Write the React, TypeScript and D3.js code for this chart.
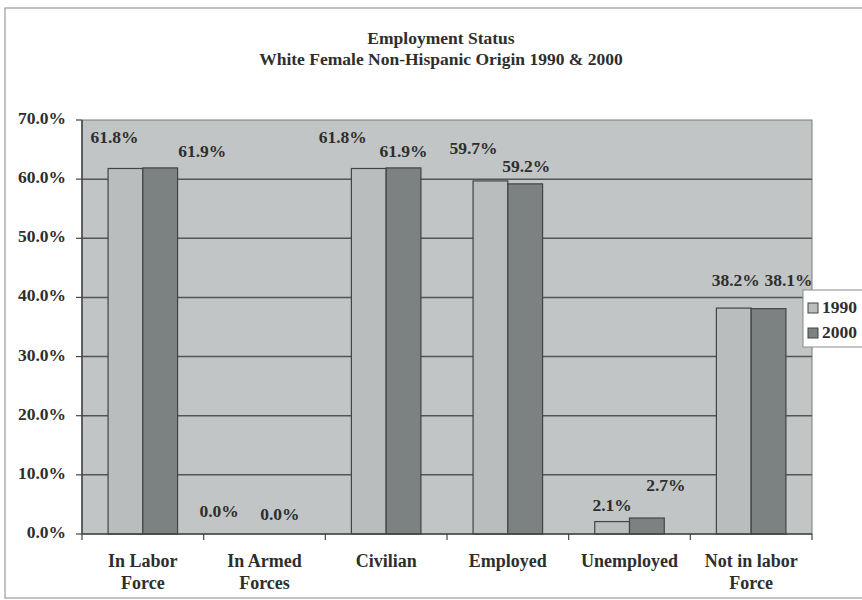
import React from "react";
import * as d3 from "d3";

const categories = [
  ["In Labor", "Force"],
  ["In Armed", "Forces"],
  ["Civilian"],
  ["Employed"],
  ["Unemployed"],
  ["Not in labor", "Force"],
];
const series = ["1990", "2000"];
const values1990 = [61.8, 0.0, 61.8, 59.7, 2.1, 38.2];
const values2000 = [61.9, 0.0, 61.9, 59.2, 2.7, 38.1];
const yTicks = [0, 10, 20, 30, 40, 50, 60, 70];
const titleLines = ["Employment Status", "White Female Non-Hispanic Origin 1990 & 2000"];

export default function App() {
  const W = 862, H = 600;
  const m = { left: 82, right: 812, top: 120, bottom: 534 };
  const font = "'Liberation Serif', 'Times New Roman', serif";
  const textColor = "#2e2e2e";
  const bg = "#c1c5c5";
  const colors = ["#b9bdbd", "#7c8282"];
  const fs = 17.5;

  const x0 = d3.scaleBand<number>().domain(d3.range(categories.length)).range([m.left, m.right]).paddingInner(0).paddingOuter(0);
  const barW = x0.bandwidth() / 3.5;
  const x1 = d3.scaleBand<number>().domain([0, 1]).range([-barW, barW]).padding(0);
  const y = d3.scaleLinear().domain([0, 70]).range([m.bottom, m.top]);

  const data = [values1990, values2000];
  // label nudges relative to bar top-center (layout only)
  const labelNudge = [
    [[-11, -30], [42, -15]],
    [[-28, -21], [-2, -18]],
    [[-26, -30], [0, -15]],
    [[-17, -31], [1, -16]],
    [[0, -15], [19, -31]],
    [[2, -26], [20, -27]],
  ];

  return (
    <svg width={W} height={H} style={{ position: "absolute", left: 0, top: 0 }} fontFamily={font}>
      <rect x={0} y={0} width={W} height={H} fill="#fff" />
      <rect x={5} y={8} width={W + 10} height={590} fill="#fff" stroke="#9a9a9a" strokeWidth={1.2} />
      {titleLines.map((t, i) => (
        <text key={i} x={441} y={40 + i * 21} textAnchor="middle" dominantBaseline="middle" fontSize={17.5} fontWeight="bold" fill={textColor}>
          {t}
        </text>
      ))}
      <rect x={m.left} y={m.top} width={m.right - m.left} height={m.bottom - m.top} fill={bg} stroke="#7a7a7a" strokeWidth={1} />
      {yTicks.filter((t) => t > 0 && t < 70).map((t) => (
        <line key={t} x1={m.left} x2={m.right} y1={y(t)} y2={y(t)} stroke="#555" strokeWidth={1.5} />
      ))}
      {data.map((vals, s) =>
        vals.map((v, i) => (
          <rect
            key={`${s}-${i}`}
            x={x0(i)! + x0.bandwidth() / 2 + x1(s)!}
            y={y(v)}
            width={x1.bandwidth()}
            height={y(0) - y(v)}
            fill={colors[s]}
            stroke="#444"
            strokeWidth={1.2}
          />
        ))
      )}
      {data.map((vals, s) =>
        vals.map((v, i) => (
          <text
            key={`l${s}-${i}`}
            x={x0(i)! + x0.bandwidth() / 2 + x1(s)! + x1.bandwidth() / 2 + labelNudge[i][s][0]}
            y={y(v) + labelNudge[i][s][1]}
            textAnchor="middle"
            dominantBaseline="middle"
            fontSize={fs}
            fontWeight="bold"
            fill={textColor}
          >
            {v.toFixed(1)}%
          </text>
        ))
      )}
      {/* axes */}
      <line x1={m.left} x2={m.left} y1={m.top} y2={m.bottom} stroke="#444" strokeWidth={1.5} />
      <line x1={m.left} x2={m.right} y1={m.bottom} y2={m.bottom} stroke="#444" strokeWidth={1.5} />
      {yTicks.map((t) => (
        <g key={t}>
          <line x1={m.left - 6} x2={m.left} y1={y(t)} y2={y(t)} stroke="#444" strokeWidth={1.2} />
          <text x={m.left - 16} y={y(t)} textAnchor="end" dominantBaseline="middle" fontSize={fs} fontWeight="bold" fill={textColor}>
            {t.toFixed(1)}%
          </text>
        </g>
      ))}
      {d3.range(categories.length + 1).map((i) => {
        const xx = i < categories.length ? x0(i)! : m.right;
        return <line key={i} x1={xx} x2={xx} y1={m.bottom} y2={m.bottom + 6} stroke="#444" strokeWidth={1.2} />;
      })}
      {categories.map((lines, i) => (
        <text key={i} x={x0(i)! + x0.bandwidth() / 2} y={563} textAnchor="middle" dominantBaseline="middle" fontSize={18} fontWeight="bold" fill={textColor}>
          {lines.map((ln, j) => (
            <tspan key={j} x={x0(i)! + x0.bandwidth() / 2} dy={j === 0 ? 0 : 22}>
              {ln}
            </tspan>
          ))}
        </text>
      ))}
      {/* legend */}
      <rect x={803} y={290} width={70} height={57} fill="#fff" stroke="#8a8a8a" strokeWidth={1} />
      {series.map((s, i) => (
        <g key={s}>
          <rect x={808} y={303 + i * 25} width={10} height={10} fill={colors[i]} stroke="#444" strokeWidth={1} />
          <text x={822} y={309 + i * 25} dominantBaseline="middle" fontSize={fs} fontWeight="bold" fill={textColor}>
            {s}
          </text>
        </g>
      ))}
    </svg>
  );
}
